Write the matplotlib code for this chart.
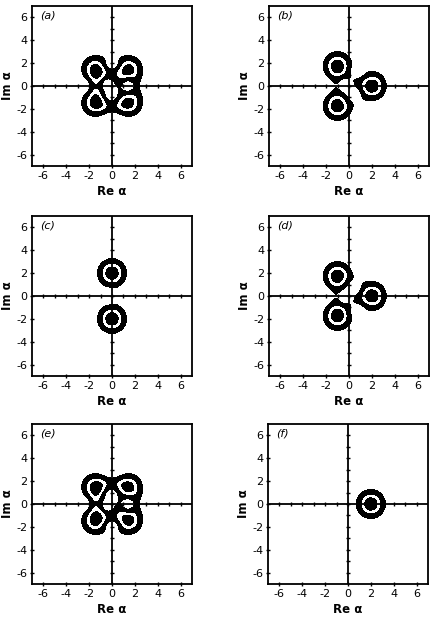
import numpy as np
import matplotlib
matplotlib.use("Agg")
import matplotlib.pyplot as plt

# Kerr-medium evolution of a coherent state |alpha0>, Q-function snapshots
panel_letters = ["a", "b", "c", "d", "e", "f"]
kerr_times = [np.pi/4, np.pi/3, np.pi/2, 2*np.pi/3, 3*np.pi/4, np.pi]   # chi*t
alpha0 = 2.0
band_levels = [0.2, 0.55, 0.75, 1.01]          # relative Q levels of the bands
band_colors = ["black", "white", "black"]
tick_vals = [-6, -4, -2, 0, 2, 4, 6]

# axes boxes in figure pixels (left, bottom-from-top)
W, H = 436, 619
box_left = [32, 269, 32, 269, 32, 268]
box_bottom = [166, 166, 376, 376, 584, 584]
box_size = 160


def husimi(theta, re, im, nmax=70):
    a = re + 1j*im
    amp = np.zeros_like(a)
    term = np.ones_like(a)
    for n in range(nmax):
        amp += term * np.exp(1j*theta*n*(n-1))
        term = term * np.conj(a) * alpha0 / (n+1)
    q = np.abs(amp)**2 * np.exp(-np.abs(a)**2 - alpha0**2) / np.pi
    return q


x = np.linspace(-7, 7, 561)
X, Y = np.meshgrid(x, x)

plt.rcParams['font.family'] = ['DejaVu Sans']
plt.rcParams['axes.unicode_minus'] = False
fig = plt.figure(figsize=(W/100, H/100), dpi=100)

for i in range(6):
    l = box_left[i]/W
    b = 1 - box_bottom[i]/H
    ax = fig.add_axes([l, b, box_size/W, box_size/H])
    q = husimi(kerr_times[i], X, Y)
    q = q / q.max()
    ax.contourf(X, Y, q, levels=band_levels, colors=band_colors)

    # central axes with integer ticks
    ax.axhline(0, color='black', lw=1.3)
    ax.axvline(0, color='black', lw=1.3)
    ks = np.arange(-6, 7)
    ax.plot(ks, np.zeros(len(ks)), ls='none', marker='|', ms=3, color='black', mew=1)
    ax.plot(np.zeros(len(ks)), ks, ls='none', marker='_', ms=3, color='black', mew=1)

    ax.set_xlim(-7, 7)
    ax.set_ylim(-7, 7)
    ax.set_xticks(tick_vals)
    ax.set_yticks(tick_vals)
    ax.tick_params(direction='inout', length=3, width=1, labelsize=8, pad=2)
    for s in ax.spines.values():
        s.set_linewidth(1.3)
    ax.set_xlabel("Re α", fontsize=8.5, fontweight='bold', labelpad=3)
    ax.set_ylabel("Im α", fontsize=8.5, fontweight='bold')
    ax.yaxis.set_label_coords(-0.11, 0.5)
    ax.text(-6.3, 6.2, "(" + panel_letters[i] + ")", fontsize=8, fontstyle='italic',
            va='center', ha='left')

fig.savefig("out.png", dpi=100)
